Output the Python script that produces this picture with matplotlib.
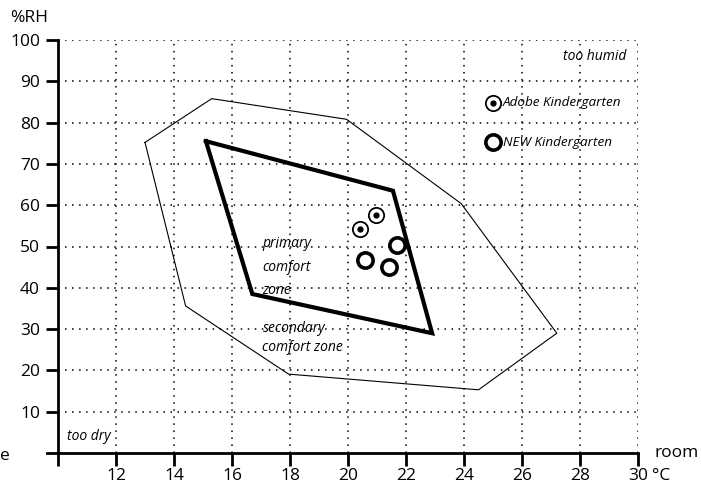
import matplotlib
matplotlib.use('Agg')
import matplotlib.pyplot as plt

plt.rcParams['font.family'] = ['Open Sans', 'DejaVu Sans']

# secondary comfort zone (thin outline)
outer_t = [13.0, 15.3, 19.95, 23.9, 27.2, 24.5, 17.95, 14.4, 13.0]
outer_rh = [75.2, 85.8, 80.8, 60.4, 29.0, 15.3, 19.1, 35.6, 75.2]

# primary comfort zone (thick outline)
inner_t = [15.1, 21.55, 22.9, 16.7, 15.1]
inner_rh = [75.5, 63.5, 29.0, 38.5, 75.5]

# measurements
adobe_t = [20.4, 20.95]
adobe_rh = [54.2, 57.6]
new_t = [21.7, 20.6, 21.4]
new_rh = [50.4, 46.7, 45.0]

xticks = [10, 12, 14, 16, 18, 20, 22, 24, 26, 28, 30]
xlabels = ['', '12', '14', '16', '18', '20', '22', '24', '26', '28', '30']
yticks = [10, 20, 30, 40, 50, 60, 70, 80, 90, 100]

fig = plt.figure(figsize=(7.01, 4.88), dpi=100)
ax = fig.add_axes([47 / 701, 35 / 488, 591 / 701, 413 / 488])
ax.set_xlim(9.62, 30)
ax.set_ylim(0, 100)

# dotted grid, drawn inside the axis frame only
dots = dict(color='black', lw=1.1, linestyle=(0, (1, 3.6)), zorder=1)
ax.vlines(xticks[1:], 0, 100, **dots)
ax.hlines(yticks, 10, 30, **dots)

ax.plot(outer_t, outer_rh, color='black', lw=0.8, zorder=2)
ax.plot(inner_t, inner_rh, color='black', lw=3, zorder=3, solid_joinstyle='miter')

ax.plot(new_t, new_rh, 'o', ms=11, mfc='white', mec='black', mew=2.6, zorder=4)
ax.plot(adobe_t, adobe_rh, 'o', ms=11, mfc='white', mec='black', mew=1.3, zorder=4)
ax.plot(adobe_t, adobe_rh, 'o', ms=3.5, color='black', zorder=5)

# legend
ax.plot([25.0], [84.8], 'o', ms=11, mfc='white', mec='black', mew=1.3, clip_on=False)
ax.plot([25.0], [84.8], 'o', ms=3.5, color='black', clip_on=False)
ax.plot([25.0], [75.3], 'o', ms=11, mfc='white', mec='black', mew=2.6, clip_on=False)
ax.text(25.35, 84.8, 'Adobe Kindergarten', style='italic', fontsize=9.7, va='center')
ax.text(25.35, 75.3, 'NEW Kindergarten', style='italic', fontsize=9.7, va='center')

ax.text(29.6, 95.9, 'too humid', style='italic', fontsize=10, ha='right', va='center')
ax.text(10.3, 3.9, 'too dry', style='italic', fontsize=10, ha='left', va='center')
ax.text(17.05, 45.0, 'primary\ncomfort\nzone', style='italic', fontsize=10,
        ha='left', va='center', linespacing=1.75)
ax.text(17.05, 27.8, 'secondary\ncomfort zone', style='italic', fontsize=10,
        ha='left', va='center', linespacing=1.35)

# axes frame
for s in ['top', 'right']:
    ax.spines[s].set_visible(False)
ax.spines['left'].set_position(('data', 10))
ax.spines['left'].set_bounds(0, 100)
ax.spines['left'].set_linewidth(2)
ax.spines['bottom'].set_linewidth(2)
ax.set_xticks(xticks)
ax.set_xticklabels(xlabels)
ax.set_yticks(yticks)
ax.tick_params(axis='both', width=2, length=9, labelsize=12.5, color='black')
ax.tick_params(axis='x', pad=2)
ax.tick_params(axis='y', pad=4)

fig.text(10 / 701, 1 - 18 / 488, '%RH', fontsize=12.5, ha='left', va='center')
fig.text(655 / 701, 1 - 453 / 488, 'room', fontsize=12.5, ha='left', va='center')
fig.text(652 / 701, 1 - 476 / 488, '°C', fontsize=12.5, ha='left', va='center')
fig.text(0, 1 - 456 / 488, 'e', fontsize=12.5, ha='left', va='center')

fig.savefig('out.png', dpi=100)
